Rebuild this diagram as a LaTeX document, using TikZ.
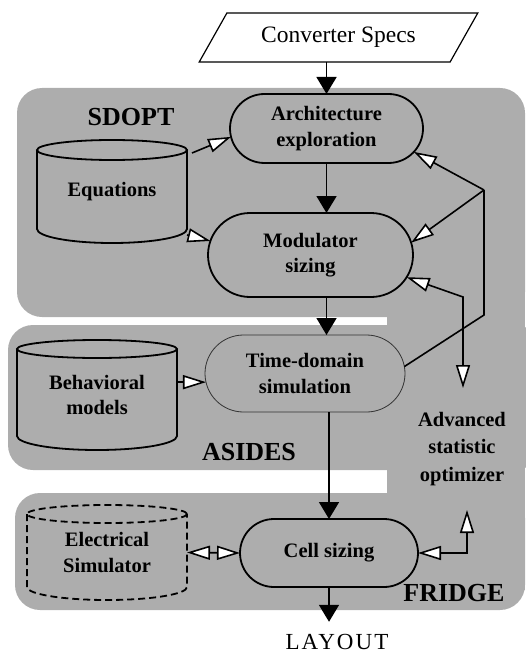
\documentclass[tikz,border=0pt]{standalone}
\usepackage{fontspec}
\setmainfont{Liberation Serif}
\newfontfamily\layoutfont[LetterSpace=9]{Liberation Serif}
\usetikzlibrary{shapes.misc,shapes.geometric,arrows.meta,calc}
\definecolor{bggray}{gray}{0.68}
\newcommand{\nodefont}{\fontsize{20.5}{25.5}\selectfont\bfseries}
\newcommand{\regionfont}{\fontsize{26}{30}\selectfont\bfseries}
% #1 options, #2 node, #3 x radius, #4 top y radius, #5 bottom y radius
\newcommand{\mycyl}[5][]{%
  \draw[#1] ($(#2.north)+(0,-#4)$) ellipse[x radius=#3, y radius=#4];
  \draw[#1] ($(#2.north west)+(0,-#4)$) -- ($(#2.south west)+(0,#5)$)
     arc[start angle=180, end angle=360, x radius=#3, y radius=#5]
     -- ($(#2.north east)+(0,-#4)$);
}
\begin{document}
\begin{tikzpicture}[x=1pt,y=1pt,
  every node/.style={inner sep=0pt, outer sep=0pt},
  proc/.style={rounded rectangle, draw, line width=1.8pt, font=\nodefont, align=center},
  thinproc/.style={rounded rectangle, draw=black!80, line width=0.8pt, font=\nodefont, align=center},
  dbox/.style={rectangle, font=\nodefont, align=center},
  region/.style={font=\regionfont},
  cylline/.style={line width=1.8pt},
  farrow/.style={line width=1.6pt, -{Triangle[length=17pt,width=20pt]}},
  oarrow/.style={line width=1.6pt, -{Triangle[length=23pt,width=14pt,fill=white]}},
  obi/.style={line width=1.6pt, {Triangle[length=23pt,width=14pt,fill=white]}-{Triangle[length=23pt,width=14pt,fill=white]}},
  plain/.style={line width=1.6pt}
]
\useasboundingbox (0,0) rectangle (525,-655);

% background regions
\fill[bggray, rounded corners=25pt] (17,-88) rectangle (525,-317);
\fill[bggray] (387,-110) rectangle (525,-590);
\fill[bggray, rounded corners=25pt] (8,-325) rectangle (540,-470);
\fill[bggray, rounded corners=25pt] (15,-493) rectangle (525,-610);

% top parallelogram
\node[trapezium, trapezium left angle=47, trapezium right angle=133, trapezium stretches=true,
      minimum width=279pt, minimum height=49pt, draw, line width=1.2pt,
      font=\fontsize{23.5}{28}\selectfont] (specs) at (338.5,-37.5) {Converter Specs};

% process nodes
\node[proc, minimum width=193pt, minimum height=69pt] (arch) at (326.5,-128.5) {Architecture\\exploration};
\node[proc, minimum width=205pt, minimum height=84pt] (mod) at (310.5,-255) {Modulator\\sizing};
\node[thinproc, minimum width=200pt, minimum height=77pt] (td) at (305,-373.5) {Time-domain\\simulation};
\node[proc, minimum width=178pt, minimum height=68pt] (cell) at (329,-553) {Cell sizing};

% databases
\node[dbox, minimum width=150pt, minimum height=103pt] (eq) at (112,-191.5) {Equations};
\mycyl[cylline]{eq}{75}{10}{14}
\node[dbox, minimum width=160pt, minimum height=110pt] (beh) at (97,-395) {Behavioral\\models};
\mycyl[cylline]{beh}{80}{9}{14}
\node[dbox, minimum width=160pt, minimum height=95pt] (elec) at (107,-552.5) {Electrical\\Simulator};
\mycyl[cylline, dash pattern=on 7pt off 4pt]{elec}{80}{9}{13}

% optimizer
\node[dbox, minimum width=100pt, minimum height=122pt, font=\fontsize{20.5}{27.5}\selectfont\bfseries] (opt) at (462,-449) {Advanced\\statistic\\optimizer};

% region labels
\node[region] (sdopt) at (131,-117) {SDOPT};
\node[region] (asides) at (249,-452) {ASIDES};
\node[region] (fridge) at (454,-593) {FRIDGE};

% layout
\node[font=\fontsize{23}{27}\selectfont\layoutfont, anchor=base] (layout) at (337,-649) {LAYOUT};

% main flow
\draw[farrow] (arch.north |- specs.south) -- (arch.north);
\draw[farrow] (arch.south) -- (arch.south |- mod.north);
\draw[farrow] (arch.south |- mod.south) -- (arch.south |- td.north);
\draw[farrow] (cell.north |- td.south) -- (cell.north);
\draw[farrow] (cell.south) -- ($(cell.south |- layout.north)+(0,12)$);

% database inputs
\draw[oarrow] ($(eq.north east)+(5,-13)$) -- (arch.185);
\draw[oarrow] ($(eq.south east)+(0,8)$) -- (mod.172);
\draw[oarrow] (beh.east |- td.185) -- (td.185);
\draw[obi] (elec.east) -- (cell.west);

% feedback loop
\coordinate (fbA) at (484,-315);
\coordinate (fbB) at (484,-190);
\draw[plain, line join=miter] (td.4) -- (fbA) -- (fbB);
\draw[oarrow] (fbB) -- (arch.-15);
\draw[oarrow] (fbB) -- (mod.7);

% optimizer links
\coordinate (obend) at (463,-297);
\draw[obi, line join=miter] (mod.-13) -- (obend) -- (obend |- opt.north);
\draw[obi, line join=miter] (cell.east) -| ($(opt.south)+(5,0)$);
\end{tikzpicture}
\end{document}
